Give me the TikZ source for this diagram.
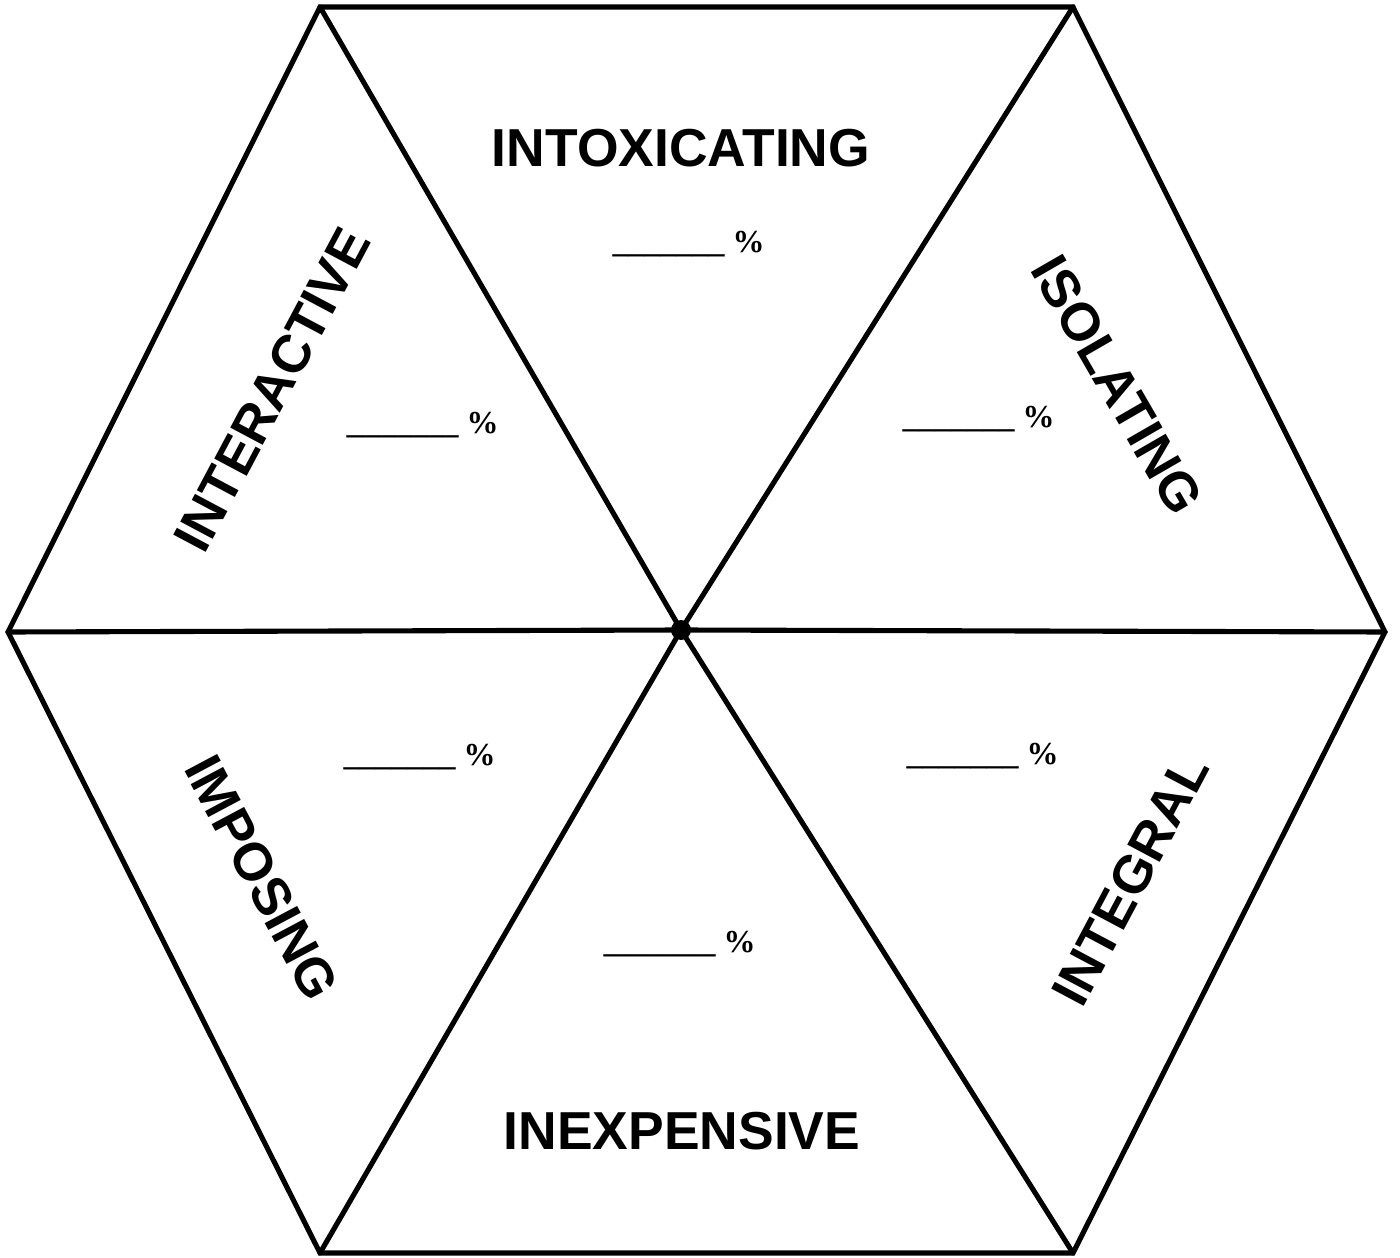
\documentclass[tikz,border=0pt]{standalone}
\usepackage{fontspec}
\setmainfont{Liberation Serif}
\newfontfamily\labelfont{Liberation Sans}
\begin{document}
\begin{tikzpicture}[x=0.01cm,y=-0.01cm,
  edge/.style={line width=1.45pt,line join=miter,line cap=round},
  lbl/.style={font=\labelfont\bfseries\fontsize{15.2}{18}\selectfont,inner sep=0pt},
  pct/.style={font=\bfseries\fontsize{9.1}{11}\selectfont,inner sep=0pt,anchor=base west}]
\useasboundingbox (0,0) rectangle (1400,1258);
\coordinate (TL) at (320,7);
\coordinate (TR) at (1073,7);
\coordinate (R) at (1385,632);
\coordinate (BR) at (1073,1253);
\coordinate (BL) at (320,1253);
\coordinate (L) at (8,632);
\coordinate (C) at (681,630);
\draw[edge] (TL) -- (TR) -- (R) -- (BR) -- (BL) -- (L) -- cycle;
\draw[edge] (TL) -- (C) -- (BR);
\draw[edge] (TR) -- (C) -- (BL);
\draw[edge] (L) -- (C) -- (R);
\fill (C) circle (10);
\node[lbl] (intox) at (681,148) {INTOXICATING};
\node[lbl] (inexp) at (682,1131) {INEXPENSIVE};
\node[lbl,rotate=62] (inter) at (272,390) {INTERACTIVE};
\node[lbl,rotate=-60] (isol) at (1117,385) {ISOLATING};
\node[lbl,rotate=-62] (impos) at (262,878) {IMPOSING};
\node[lbl,rotate=62] (integ) at (1130,880) {INTEGRAL};
\node[pct] (p1) at (612,253) {\_\_\_\_\_\_\_ \%};
\node[pct] (p2) at (346,433) {\_\_\_\_\_\_\_ \%};
\node[pct] (p3) at (902,428) {\_\_\_\_\_\_\_ \%};
\node[pct] (p4) at (343,765) {\_\_\_\_\_\_\_ \%};
\node[pct] (p5) at (906,764) {\_\_\_\_\_\_\_ \%};
\node[pct] (p6) at (603,952) {\_\_\_\_\_\_\_ \%};
\end{tikzpicture}
\end{document}
